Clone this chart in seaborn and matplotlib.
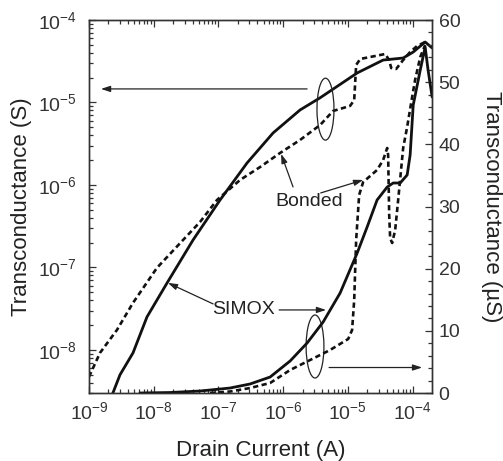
import numpy as np
import pandas as pd
import matplotlib
matplotlib.use("Agg")
import matplotlib.pyplot as plt
import seaborn as sns
from matplotlib.patches import Ellipse
from matplotlib.ticker import LogLocator, MultipleLocator, NullFormatter

# ---------------- data ----------------
# Left (log) axis: transconductance in S
simox_log_I = [2.09e-9, 2.35e-9, 3.01e-9, 4.79e-9, 7.87e-9, 1.61e-8, 4.05e-8, 1.06e-7,
               2.77e-7, 6.98e-7, 1.82e-6, 3.72e-6, 1.39e-5, 3.50e-5, 7.13e-5, 1.02e-4,
               1.56e-4, 2.00e-4]
simox_log_gm = [2.40e-9, 3.02e-9, 4.98e-9, 9.20e-9, 2.51e-8, 6.49e-8, 2.15e-7, 6.58e-7,
                1.85e-6, 4.27e-6, 8.11e-6, 1.14e-5, 2.28e-5, 3.27e-5, 3.46e-5, 4.09e-5,
                5.41e-5, 4.58e-5]

bonded_log_I = [1.00e-9, 1.48e-9, 2.71e-9, 4.79e-9, 1.12e-8, 2.84e-8, 5.20e-8, 9.51e-8,
                2.16e-7, 4.40e-7, 8.95e-7, 1.82e-6, 3.72e-6, 5.90e-6, 1.08e-5, 1.25e-5,
                1.34e-5, 1.55e-5, 3.76e-5, 4.34e-5, 4.66e-5, 5.56e-5, 7.13e-5, 9.14e-5,
                1.17e-4, 1.56e-4]
bonded_log_gm = [4.71e-9, 9.20e-9, 1.75e-8, 3.72e-8, 9.86e-8, 2.15e-7, 3.56e-7, 6.58e-7,
                 1.15e-6, 1.65e-6, 2.44e-6, 3.51e-6, 5.33e-6, 7.89e-6, 9.08e-6, 1.07e-5,
                 2.85e-5, 3.37e-5, 3.87e-5, 3.27e-5, 2.62e-5, 2.55e-5, 3.27e-5, 4.09e-5,
                 4.84e-5, 5.41e-5]

# Right (linear) axis: transconductance in uS
simox_lin_I = [6.14e-9, 1.79e-8, 5.20e-8, 1.51e-7, 3.08e-7, 6.28e-7, 1.28e-6, 2.34e-6,
               4.14e-6, 7.57e-6, 1.39e-5, 1.98e-5, 2.82e-5, 4.04e-5, 5.00e-5, 6.41e-5,
               8.22e-5, 9.14e-5, 1.02e-4, 1.31e-4, 1.56e-4, 1.73e-4, 2.00e-4]
simox_lin_gm = [0.0, 0.08, 0.32, 0.80, 1.45, 2.57, 5.15, 8.04, 11.42, 16.08, 22.52, 26.70,
                31.04, 33.13, 33.78, 33.78, 35.07, 38.28, 46.32, 51.95, 55.65, 51.95, 47.61]

bonded_lin_I = [7.41e-8, 1.51e-7, 3.08e-7, 6.28e-7, 1.28e-6, 2.61e-6, 5.31e-6, 1.01e-5,
                1.16e-5, 1.25e-5, 1.34e-5, 1.49e-5, 1.72e-5, 2.82e-5, 3.50e-5, 4.04e-5,
                4.18e-5, 4.34e-5, 4.49e-5, 4.82e-5, 5.37e-5, 5.97e-5, 7.13e-5, 8.22e-5,
                9.82e-5, 1.09e-4, 1.31e-4, 1.56e-4]
bonded_lin_gm = [0.0, 0.24, 0.80, 1.61, 3.70, 5.31, 6.92, 8.69, 10.13, 14.96, 24.61, 31.85,
                 33.94, 35.87, 37.48, 39.41, 38.28, 28.63, 24.93, 24.13, 26.22, 31.04, 39.41,
                 42.79, 47.61, 50.35, 54.05, 55.98]

right_ticks = [0, 10, 20, 30, 40, 50, 60]

# ---------------- style ----------------
sns.set_style("ticks")
plt.rcParams.update({
    "font.family": ["Liberation Sans", "DejaVu Sans"],
    "mathtext.fontset": "custom",
    "mathtext.rm": "Liberation Sans",
    "mathtext.it": "Liberation Sans:italic",
    "mathtext.bf": "Liberation Sans:bold",
    "mathtext.default": "regular",
    "axes.unicode_minus": False,
    "text.color": "#222222",
    "axes.labelcolor": "#222222",
    "xtick.color": "#333333",
    "ytick.color": "#333333",
    "axes.edgecolor": "#333333",
})

INK = "#111111"
fig = plt.figure(figsize=(5.03, 4.61), dpi=100)
ax = fig.add_axes([0.1769, 0.1475, 0.6814, 0.8091])
ax.set_xscale("log")
ax.set_yscale("log")
ax2 = ax.twinx()

dash = (0, (2.0, 1.3))
sns.lineplot(x=simox_log_I, y=simox_log_gm, ax=ax, color=INK, lw=2.0,
             sort=False, estimator=None)
sns.lineplot(x=bonded_log_I, y=bonded_log_gm, ax=ax, color=INK, lw=1.9,
             linestyle=dash, sort=False, estimator=None)
sns.lineplot(x=simox_lin_I, y=simox_lin_gm, ax=ax2, color=INK, lw=2.0,
             sort=False, estimator=None)
sns.lineplot(x=bonded_lin_I, y=bonded_lin_gm, ax=ax2, color=INK, lw=1.9,
             linestyle=dash, sort=False, estimator=None)

ax.set_xlim(1e-9, 1.97e-4)
ax.set_ylim(3e-9, 1e-4)
ax2.set_ylim(0, 60)

# ticks
ax.xaxis.set_major_locator(LogLocator(base=10, numticks=20))
ax.xaxis.set_minor_locator(LogLocator(base=10, subs=np.arange(2, 10), numticks=20))
ax.xaxis.set_minor_formatter(NullFormatter())
ax.yaxis.set_major_locator(LogLocator(base=10, numticks=20))
ax.yaxis.set_minor_locator(LogLocator(base=10, subs=np.arange(2, 10), numticks=20))
ax.yaxis.set_minor_formatter(NullFormatter())
ax2.yaxis.set_major_locator(MultipleLocator(10))
ax2.yaxis.set_minor_locator(MultipleLocator(2))
ax2.set_yticks(right_ticks)

ax.tick_params(axis="both", which="both", direction="in", top=True, right=False,
               width=0.9)
ax.tick_params(which="major", length=5)
ax.tick_params(which="minor", length=3)
ax.tick_params(axis="x", which="major", labelsize=14, pad=6)
ax.tick_params(axis="y", which="major", labelsize=14, pad=9)
ax2.tick_params(axis="y", which="both", direction="in", right=True, left=False,
                width=0.9, labelsize=14, pad=5)
ax2.tick_params(axis="y", which="major", length=5)
ax2.tick_params(axis="y", which="minor", length=3)

for a in (ax, ax2):
    for s in a.spines.values():
        s.set_linewidth(1.0)
        s.set_color("#333333")

ax.set_xlabel("Drain Current (A)", fontsize=16, labelpad=12)
ax.set_ylabel("Transconductance (S)", fontsize=16)
ax.yaxis.set_label_coords(-0.166, 0.5)
ax2.set_ylabel("Transconductance (\u00b5S)", fontsize=16, rotation=270, va="bottom")
ax2.yaxis.set_label_coords(1.145, 0.5)

# ---------------- annotations ----------------
arw = dict(arrowstyle="-|>,head_length=0.55,head_width=0.18", color="#222222",
           lw=0.9, shrinkA=0, shrinkB=0)
# left pointing arrow (upper curves -> left axis)
ax.annotate("", xy=(1.53e-9, 1.46e-5), xytext=(2.34e-6, 1.46e-5), arrowprops=arw)
# right pointing arrow (lower curves -> right axis)
ax2.annotate("", xy=(1.40e-4, 4.1), xytext=(5.12e-6, 4.1), arrowprops=arw)

# ellipses (axes fraction)
ax.add_patch(Ellipse((0.690, 0.761), 0.0496, 0.166, transform=ax.transAxes,
                     fill=False, ec="#222222", lw=0.9, zorder=5))
ax.add_patch(Ellipse((0.6595, 0.1247), 0.052, 0.169, transform=ax.transAxes,
                     fill=False, ec="#222222", lw=0.9, zorder=5))

# labels
ax.text(2.51e-6, 6.22e-7, "Bonded", fontsize=14, ha="center", va="center")
ax.annotate("", xy=(9.29e-7, 2.38e-6), xytext=(1.42e-6, 9.46e-7), arrowprops=arw)
ax.annotate("", xy=(1.72e-5, 1.15e-6), xytext=(3.80e-6, 8.0e-7), arrowprops=arw)

ax.text(2.40e-7, 3.05e-8, "SIMOX", fontsize=14, ha="center", va="center")
ax.annotate("", xy=(1.66e-8, 6.49e-8), xytext=(8.26e-8, 3.61e-8), arrowprops=arw)
ax.annotate("", xy=(4.60e-6, 3.05e-8), xytext=(8.65e-7, 3.05e-8), arrowprops=arw)

fig.savefig("out.png", dpi=100)
